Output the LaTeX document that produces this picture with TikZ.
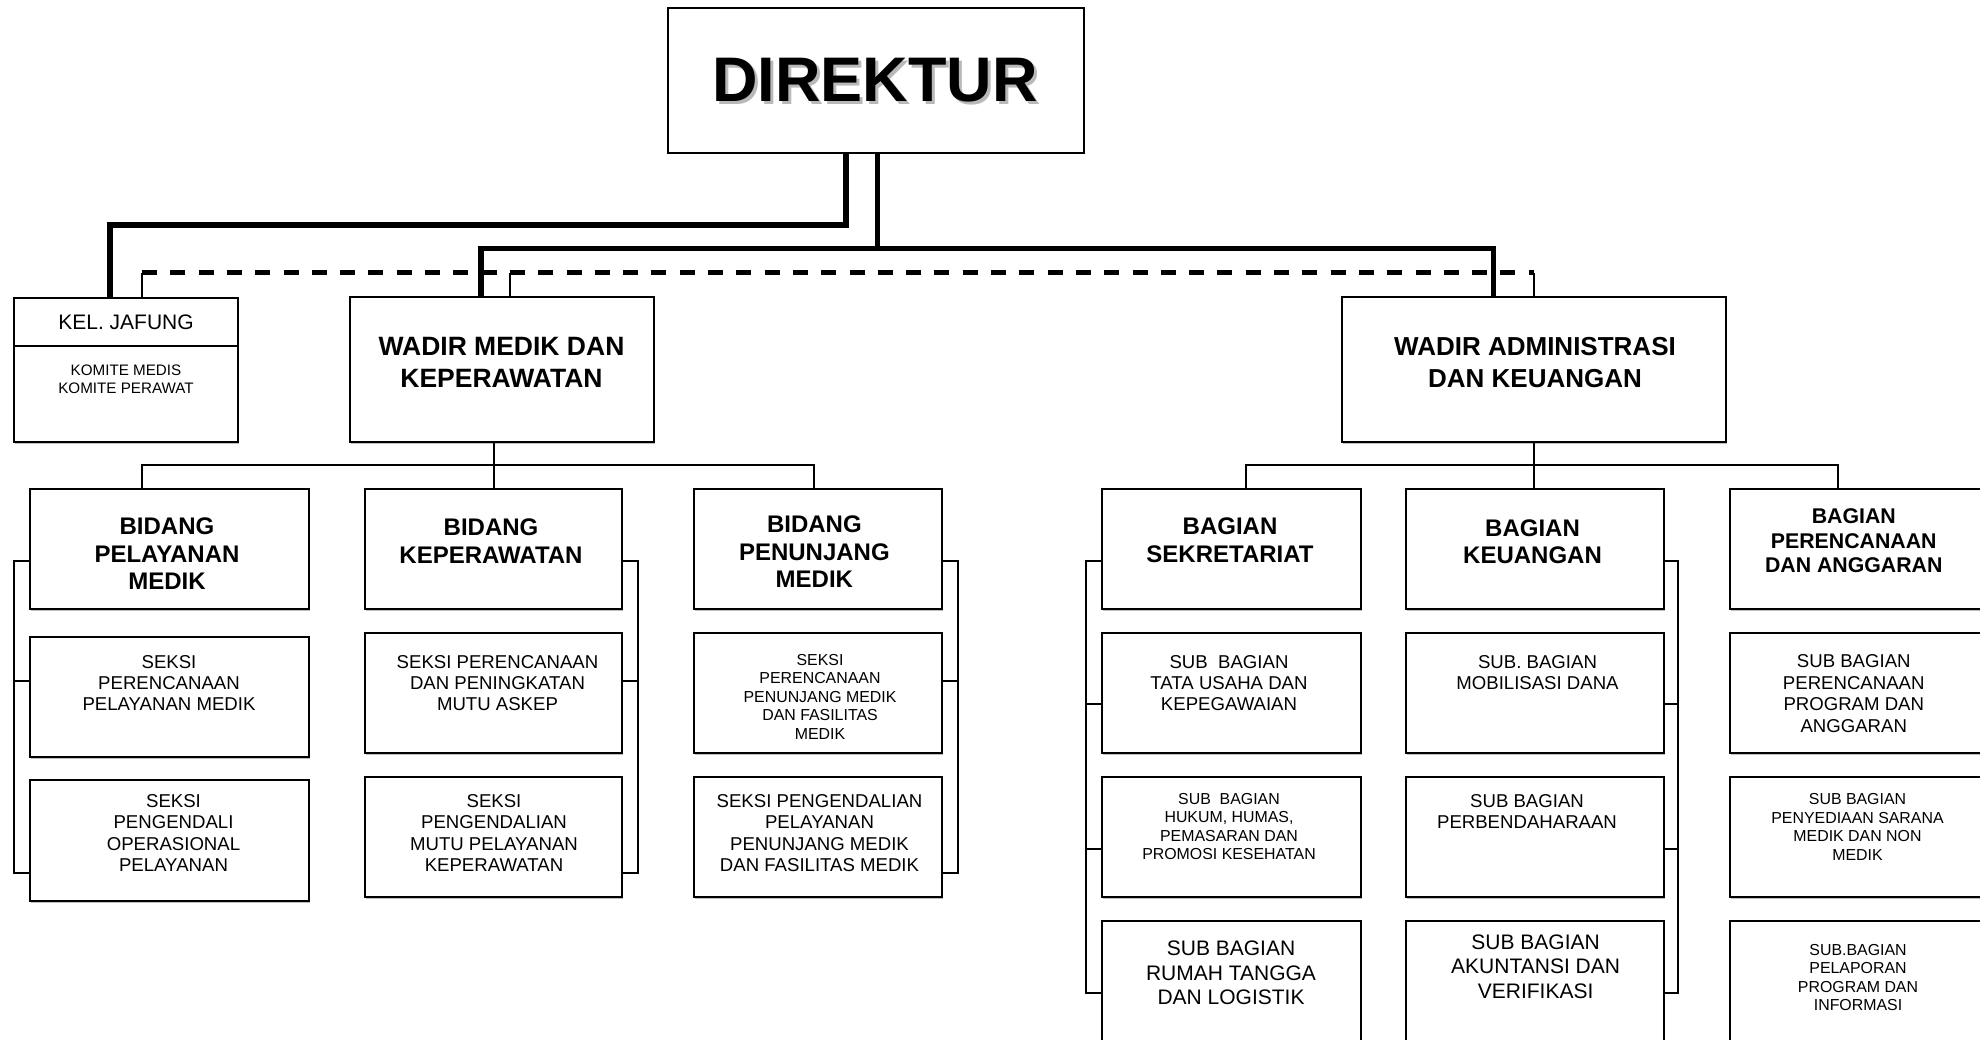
\documentclass[tikz,border=0pt]{standalone}
\usepackage{fontspec}
\setmainfont{Liberation Sans}
\usetikzlibrary{shadows}
\newcommand\fs[2]{\fontsize{#1pt}{#2pt}\selectfont}
\newcommand\mkbox[5]{\node[boxst, minimum width={(#4)-(#2)}, minimum height={(#5)-(#3)}] (#1) at (#2,#3) {};}
\tikzset{
  boxst/.style={draw, line width=2pt, fill=white, inner sep=0pt, outer sep=0pt, anchor=north west,
    drop shadow={shadow xshift=0.6pt, shadow yshift=-1.8pt, fill=gray!50, opacity=1}},
  txt/.style={align=center, inner sep=0pt, outer sep=0pt, anchor=center},
  hbold/.style={font=\fs{24}{27.4}\bfseries},
  hboldsm/.style={font=\fs{21.3}{24.4}\bfseries},
  reg/.style={font=\fs{18.6}{21.4}},
  regsm/.style={font=\fs{15.9}{18.5}},
  reglg/.style={font=\fs{21}{24.8}},
  thickl/.style={line width=5.5pt, line join=miter},
  thinl/.style={line width=1.8pt},
  dashl/.style={line width=4.5pt, dash pattern=on 15pt off 13.3pt}
}
\begin{document}
\begin{tikzpicture}[x=1pt,y=-1pt]
\useasboundingbox (0,0) rectangle (1980,1039);
\clip (0,0) rectangle (1980,1039);

% ---------- boxes ----------
\mkbox{dir}{668}{7.5}{1084}{152.5}
\mkbox{kel}{14}{298}{238}{442}
\draw[line width=2pt] (kel.west |- 0,346) -- (kel.east |- 0,346);
\mkbox{wm}{350}{297}{654}{442}
\mkbox{wa}{1342}{297}{1726}{442}

\mkbox{b11}{30}{489}{309}{609}
\mkbox{b12}{30}{637}{309}{757}
\mkbox{b13}{30}{780}{309}{901}
\mkbox{b21}{365}{489}{622}{609}
\mkbox{b22}{365}{633}{622}{753}
\mkbox{b23}{365}{777}{622}{897}
\mkbox{b31}{694}{489}{942}{609}
\mkbox{b32}{694}{633}{942}{753}
\mkbox{b33}{694}{777}{942}{897}

\mkbox{sA1}{1102}{489}{1361}{609}
\mkbox{sA2}{1102}{633}{1361}{753}
\mkbox{sA3}{1102}{777}{1361}{897}
\mkbox{sA4}{1102}{921}{1361}{1070}
\mkbox{sB1}{1406}{489}{1664}{609}
\mkbox{sB2}{1406}{633}{1664}{753}
\mkbox{sB3}{1406}{777}{1664}{897}
\mkbox{sB4}{1406}{921}{1664}{1070}
\mkbox{sC1}{1730}{489}{1995}{609}
\mkbox{sC2}{1730}{633}{1995}{753}
\mkbox{sC3}{1730}{777}{1995}{897}
\mkbox{sC4}{1730}{921}{1995}{1070}

% ---------- texts ----------
\node[txt, font=\fs{63}{70}\bfseries, text=gray!55] (dirsh) at (878,83) {DIREKTUR};
\node[txt, font=\fs{63}{70}\bfseries] (dirt) at (875,80) {DIREKTUR};
\node[txt, font=\fs{21}{24}] (kelt) at (126,322) {KEL. JAFUNG};
\node[txt, font=\fs{15.2}{18.5}] (kelk) at (126,379.5) {KOMITE MEDIS\\KOMITE PERAWAT};
\node[txt, font=\fs{26.5}{31.6}\bfseries] (wmt) at (501.5,362.5) {WADIR MEDIK DAN\\KEPERAWATAN};
\node[txt, font=\fs{26}{31.6}\bfseries] (wat) at (1535,362.5) {WADIR ADMINISTRASI\\DAN KEUANGAN};

\node[txt, hbold] (t11) at (167,554) {BIDANG\\PELAYANAN\\MEDIK};
\node[txt, reg] (t12) at (169,683) {SEKSI\\PERENCANAAN\\PELAYANAN MEDIK};
\node[txt, reg] (t13) at (173.5,833) {SEKSI\\PENGENDALI\\OPERASIONAL\\PELAYANAN};
\node[txt, hbold] (t21) at (491,541.2) {BIDANG\\KEPERAWATAN};
\node[txt, reg] (t22) at (497.5,683) {SEKSI PERENCANAAN\\DAN PENINGKATAN\\MUTU ASKEP};
\node[txt, reg] (t23) at (494,833) {SEKSI\\PENGENDALIAN\\MUTU PELAYANAN\\KEPERAWATAN};
\node[txt, hbold] (t31) at (814.4,552) {BIDANG\\PENUNJANG\\MEDIK};
\node[txt, regsm] (t32) at (820,696.8) {SEKSI\\PERENCANAAN\\PENUNJANG MEDIK\\DAN FASILITAS\\MEDIK};
\node[txt, reg] (t33) at (819.5,833) {SEKSI PENGENDALIAN\\PELAYANAN\\PENUNJANG MEDIK\\DAN FASILITAS MEDIK};

\node[txt, hbold] (uA1) at (1230,540.4) {BAGIAN\\SEKRETARIAT};
\node[txt, reg] (uA2) at (1229,683) {SUB~~BAGIAN\\TATA USAHA DAN\\KEPEGAWAIAN};
\node[txt, regsm] (uA3) at (1229,826.7) {SUB~~BAGIAN\\HUKUM, HUMAS,\\PEMASARAN DAN\\PROMOSI KESEHATAN};
\node[txt, reglg] (uA4) at (1231,972.9) {SUB BAGIAN\\RUMAH TANGGA\\DAN LOGISTIK};
\node[txt, hbold] (uB1) at (1532.5,541.6) {BAGIAN\\KEUANGAN};
\node[txt, reg] (uB2) at (1537.5,672.3) {SUB. BAGIAN\\MOBILISASI DANA};
\node[txt, reg] (uB3) at (1527,811.5) {SUB BAGIAN\\PERBENDAHARAAN};
\node[txt, reglg] (uB4) at (1535.6,966.7) {SUB BAGIAN\\AKUNTANSI DAN\\VERIFIKASI};
\node[txt, hboldsm] (uC1) at (1853.75,540.7) {BAGIAN\\PERENCANAAN\\DAN ANGGARAN};
\node[txt, reg] (uC2) at (1853.75,693.6) {SUB BAGIAN\\PERENCANAAN\\PROGRAM DAN\\ANGGARAN};
\node[txt, regsm] (uC3) at (1857.5,826.7) {SUB BAGIAN\\PENYEDIAAN SARANA\\MEDIK DAN NON\\MEDIK};
\node[txt, regsm] (uC4) at (1858,977.5) {SUB.BAGIAN\\PELAPORAN\\PROGRAM DAN\\INFORMASI};

% ---------- helper coordinates ----------
\coordinate (xL) at (846,0);
\coordinate (xR) at (877.5,0);
\coordinate (yJ) at (0,225);
\coordinate (yW) at (0,248.5);
\coordinate (xK) at (110,0);
\coordinate (xWM) at (481,0);
\coordinate (xWA) at (1493.5,0);
\coordinate (yD) at (0,272.5);
\coordinate (d1) at (142,0);
\coordinate (d2) at (510,0);
\coordinate (d3) at (1534,0);
\coordinate (yH) at (0,465);
\coordinate (m0) at (494,0);
\coordinate (m1) at (142,0);
\coordinate (m3) at (814,0);
\coordinate (a0) at (1534,0);
\coordinate (a1) at (1246,0);
\coordinate (a3) at (1838,0);
\coordinate (k1) at (14,0);
\coordinate (k2) at (638,0);
\coordinate (k3) at (958,0);
\coordinate (kA) at (1086,0);
\coordinate (kB) at (1678,0);
\coordinate (r1) at (0,561);
\coordinate (r2) at (0,681);
\coordinate (r3) at (0,873);
\coordinate (q1) at (0,561);
\coordinate (q2) at (0,704);
\coordinate (q3) at (0,849);
\coordinate (q4) at (0,993);

% ---------- dashed line (coordination) ----------
\draw[dashl] (d1 |- yD) -- (d3 |- yD);
\draw[thinl] (kel.north -| d1) -- (d1 |- yD);
\draw[thinl] (wm.north -| d2) -- (d2 |- yD);
\draw[thinl] (wa.north -| d3) -- (d3 |- yD);

% ---------- thick lines from DIREKTUR ----------
\draw[thickl] (dir.south -| xL) -- (xL |- yJ) -- (xK |- yJ) -- (kel.north -| xK);
\draw[thickl] (dir.south -| xR) -- (xR |- yW);
\draw[thickl] (wm.north -| xWM) -- (xWM |- yW) -- (xWA |- yW) -- (wa.north -| xWA);

% ---------- medical branch ----------
\draw[thinl] (wm.south -| m0) -- (b21.north -| m0);
\draw[thinl] (b11.north -| m1) -- (m1 |- yH) -- (m3 |- yH) -- (b31.north -| m3);
\draw[thinl] (b11.west |- r1) -- (k1 |- r1) -- (k1 |- r3) -- (b13.west |- r3);
\draw[thinl] (k1 |- r2) -- (b12.west |- r2);
\draw[thinl] (b21.east |- r1) -- (k2 |- r1) -- (k2 |- r3) -- (b23.east |- r3);
\draw[thinl] (k2 |- r2) -- (b22.east |- r2);
\draw[thinl] (b31.east |- r1) -- (k3 |- r1) -- (k3 |- r3) -- (b33.east |- r3);
\draw[thinl] (k3 |- r2) -- (b32.east |- r2);

% ---------- administration branch ----------
\draw[thinl] (wa.south -| a0) -- (sB1.north -| a0);
\draw[thinl] (sA1.north -| a1) -- (a1 |- yH) -- (a3 |- yH) -- (sC1.north -| a3);
\draw[thinl] (sA1.west |- q1) -- (kA |- q1) -- (kA |- q4) -- (sA4.west |- q4);
\draw[thinl] (kA |- q2) -- (sA2.west |- q2);
\draw[thinl] (kA |- q3) -- (sA3.west |- q3);
\draw[thinl] (sB1.east |- q1) -- (kB |- q1) -- (kB |- q4) -- (sB4.east |- q4);
\draw[thinl] (kB |- q2) -- (sB2.east |- q2);
\draw[thinl] (kB |- q3) -- (sB3.east |- q3);
\end{tikzpicture}
\end{document}
